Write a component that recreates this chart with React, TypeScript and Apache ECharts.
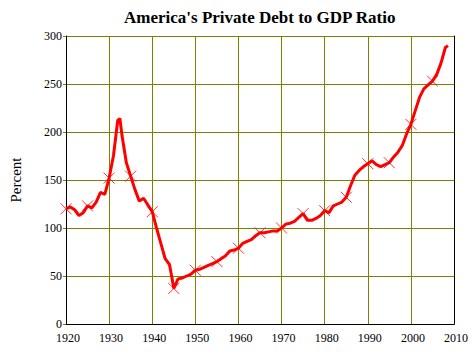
import React, { useEffect, useRef } from "react";
import * as echarts from "echarts";

const years = [
  1920, 1921, 1922, 1923, 1924, 1925, 1926, 1927, 1928, 1929,
  1930, 1931, 1932, 1932.5, 1933, 1934, 1935, 1936, 1937, 1938, 1939,
  1940, 1941, 1942, 1943, 1944, 1944.5, 1945, 1946, 1947, 1948, 1949,
  1950, 1951, 1952, 1953, 1954, 1955, 1956, 1957, 1958, 1959,
  1960, 1961, 1962, 1963, 1964, 1965, 1966, 1967, 1968, 1969,
  1970, 1971, 1972, 1973, 1974, 1975, 1976, 1977, 1978, 1979,
  1980, 1981, 1982, 1983, 1984, 1985, 1986, 1987, 1988, 1989,
  1990, 1991, 1992, 1993, 1994, 1995, 1996, 1997, 1998, 1999,
  2000, 2001, 2002, 2003, 2004, 2005, 2006, 2007, 2008, 2008.6,
];
const debtRatio = [
  120, 122, 119, 113, 116, 123, 121, 127, 137, 135,
  152, 175, 212, 214, 196, 168, 154, 140, 128, 131, 124,
  117, 100, 84, 68, 62, 50, 37, 47, 48, 50, 52,
  56, 57, 59, 61, 63, 65, 68, 71, 76, 77,
  79, 84, 86, 88, 92, 95, 95, 96, 97, 97,
  100, 104, 105, 107, 111, 115, 108, 108, 110, 113,
  118, 116, 123, 125, 127, 132, 144, 155, 160, 164,
  167, 170, 166, 164, 166, 168, 174, 179, 186, 198,
  208, 222, 236, 245, 249, 253, 260, 272, 288, 290,
];
const xTicks = [1920, 1930, 1940, 1950, 1960, 1970, 1980, 1990, 2000, 2010];
const yTicks = [0, 50, 100, 150, 200, 250, 300];

const OLIVE = "#808000";
const FONT = "'Liberation Serif', 'Times New Roman', serif";

export default function App() {
  const ref = useRef<HTMLDivElement>(null);
  useEffect(() => {
    if (!ref.current) return;
    const chart = echarts.init(ref.current, null, { renderer: "svg" });
    const lineData = years.map((y, i) => [y, debtRatio[i]]);
    const markData = years
      .map((y, i) => [y, debtRatio[i]])
      .filter((d) => Number.isInteger(d[0]) && (d[0] as number) % 5 === 0);
    chart.setOption({
      animation: false,
      backgroundColor: "#ffffff",
      textStyle: { fontFamily: FONT },
      title: {
        text: "America's Private Debt to GDP Ratio",
        left: 124,
        top: 9,
        padding: 0,
        textStyle: { fontFamily: FONT, fontSize: 17, fontWeight: "bold", color: "#000" },
      },
      grid: { left: 65, right: 21, top: 36, bottom: 31, containLabel: false },
      xAxis: [
        {
          type: "value",
          min: xTicks[0],
          max: xTicks[xTicks.length - 1],
          interval: 10,
          axisLine: { lineStyle: { color: "#000", width: 1 } },
          axisTick: { show: false },
          axisLabel: {
            color: "#000",
            fontFamily: FONT,
            fontSize: 12,
            lineHeight: 12,
            margin: 8,
            padding: [0, 0, 0, 4],
            formatter: (v: number) => String(v),
          },
          splitLine: { show: true, lineStyle: { color: OLIVE, width: 1 } },
        },
        {
          type: "value",
          position: "top",
          min: xTicks[0],
          max: xTicks[xTicks.length - 1],
          axisLine: { show: true, lineStyle: { color: "#000", width: 1 } },
          axisTick: { show: false },
          axisLabel: { show: false },
          splitLine: { show: false },
        },
      ],
      yAxis: [
        {
          type: "value",
          min: yTicks[0],
          max: yTicks[yTicks.length - 1],
          interval: 50,
          name: "Percent",
          nameLocation: "middle",
          nameGap: 43,
          nameTextStyle: { fontFamily: FONT, fontSize: 15, color: "#000" },
          axisLine: { show: true, lineStyle: { color: "#000", width: 1 } },
          axisTick: { show: true, length: 3, lineStyle: { color: OLIVE } },
          axisLabel: { color: "#000", fontFamily: FONT, fontSize: 12, lineHeight: 10, margin: 4 },
          splitLine: { show: true, lineStyle: { color: OLIVE, width: 1 } },
        },
        {
          type: "value",
          position: "right",
          min: yTicks[0],
          max: yTicks[yTicks.length - 1],
          axisLine: { show: true, lineStyle: { color: "#000", width: 1 } },
          axisTick: { show: false },
          axisLabel: { show: false },
          splitLine: { show: false },
        },
      ],
      series: [
        {
          type: "line",
          data: lineData,
          showSymbol: false,
          symbol: "none",
          lineStyle: { color: "#ff0000", width: 3 },
          z: 3,
        },
        {
          type: "scatter",
          data: markData,
          symbol: "path://M0,0L10,10M10,0L0,10",
          symbolSize: 11,
          itemStyle: { color: "transparent", borderColor: "#ff0000", borderWidth: 1 },
          z: 4,
        },
      ],
    });
    return () => chart.dispose();
  }, []);
  return (
    <div
      ref={ref}
      style={{ position: "fixed", left: 0, top: 0, width: 475, height: 355, background: "#fff" }}
    />
  );
}
